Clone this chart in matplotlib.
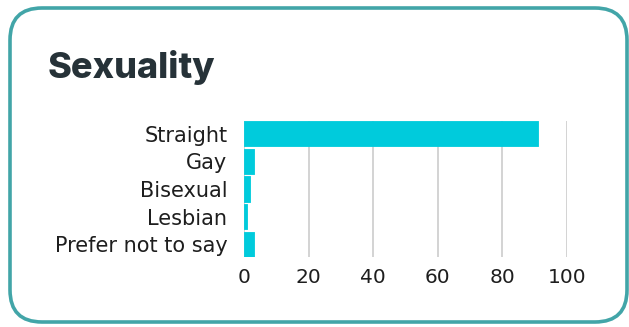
import matplotlib.pyplot as plt
from matplotlib.patches import FancyBboxPatch

categories = ["Straight", "Gay", "Bisexual", "Lesbian", "Prefer not to say"]
counts = [91, 3, 2, 1, 3]
ticks = [0, 20, 40, 60, 80, 100]

bar_color = "#00cbdc"
title_color = "#263238"
frame_color = "#42a5a8"

fig = plt.figure(figsize=(6.29, 3.27), dpi=100)
fig.patch.set_facecolor("white")

# card border, drawn behind everything
card = FancyBboxPatch((0.10, 0.05), 6.17, 3.14,
                      boxstyle="round,pad=0,rounding_size=0.32",
                      transform=fig.dpi_scale_trans,
                      facecolor="white", edgecolor=frame_color, linewidth=2.6,
                      zorder=-10)
fig.add_artist(card)

fig.text(48 / 629, 1 - 78 / 327, "Sexuality", fontsize=26, fontweight="heavy",
         family="Inter", color=title_color, ha="left", va="baseline")

ax = fig.add_axes([244 / 629, 1 - 257 / 327, (567 - 244) / 629, (257 - 121) / 327])
ax.set_zorder(5)
ax.set_facecolor("none")
ypos = list(range(len(categories)))
ax.barh(ypos, counts, height=0.91, color=bar_color, edgecolor=bar_color,
        linewidth=0.6, joinstyle="round", zorder=3)
ax.set_ylim(len(categories) - 0.545, -0.455)
ax.set_xlim(0, 100)
ax.set_xticks(ticks)
ax.set_yticks(ypos)
ax.set_yticklabels(categories)
ax.grid(axis="x", color="#cccccc", linewidth=1.2, zorder=0)
for s in ax.spines.values():
    s.set_visible(False)
ax.tick_params(axis="both", length=0, labelcolor="#1e1e1e")
ax.tick_params(axis="y", pad=12, labelsize=15)
ax.tick_params(axis="x", pad=8, labelsize=14.5)
for lbl in ax.get_xticklabels() + ax.get_yticklabels():
    lbl.set_family("DejaVu Sans")

fig.savefig("out.png", dpi=100)
